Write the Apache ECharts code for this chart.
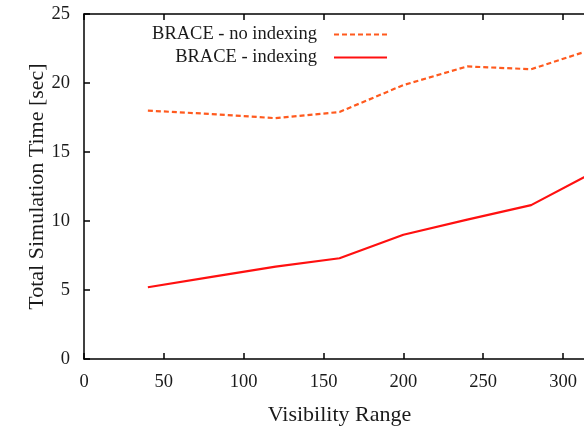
<!DOCTYPE html>
<html>
<head>
<meta charset="utf-8">
<script src="https://cdn.jsdelivr.net/npm/echarts@6/dist/echarts.min.js"></script>
<style>
  html, body { margin: 0; padding: 0; background: #fff; }
  #main { width: 584px; height: 431px; }
</style>
</head>
<body>
<div id="main"></div>
<script>
// visibility range values (x) and simulation times (y)
var ranges = [40, 80, 120, 160, 200, 240, 280, 320];
var noIndexing = [18.0, 17.75, 17.45, 17.9, 19.85, 21.2, 21.0, 22.5];
var indexing = [5.2, 5.95, 6.7, 7.3, 9.0, 10.1, 11.15, 13.6];
var seriesNames = ['BRACE - no indexing', 'BRACE - indexing'];

var font = '"Liberation Serif", "DejaVu Serif", serif';
var txt = '#1a1a1a';

function pairs(ys) {
    return ranges.map(function (x, i) { return [x, ys[i]]; });
}

function legendFor(name, top) {
    return {
        data: [name],
        right: 196, top: top, padding: 0,
        align: 'right',
        itemWidth: 53, itemHeight: 10, itemGap: 0,
        itemStyle: { opacity: 0 },
        textStyle: { fontFamily: font, fontSize: 18.5, color: txt, padding: [0, 12, 0, 0] }
    };
}

var chart = echarts.init(document.getElementById('main'));

var option = {
    animation: false,
    backgroundColor: '#fff',
    grid: { left: 84, top: 14, width: 511, height: 345, outerBoundsMode: 'none', containLabel: false },
    legend: [legendFor(seriesNames[0], 25), legendFor(seriesNames[1], 48)],
    xAxis: [
        {
            type: 'value', min: 0, max: 320, interval: 50,
            name: 'Visibility Range', nameLocation: 'middle', nameGap: 45,
            nameMoveOverlap: false,
            nameTextStyle: { fontFamily: font, fontSize: 22, color: txt },
            axisLine: { lineStyle: { color: '#000', width: 1.5 } },
            axisTick: { inside: true, length: 6, lineStyle: { color: '#000', width: 1.5 } },
            axisLabel: { fontFamily: font, fontSize: 18.5, color: txt, margin: 14,
                formatter: function (v) { return v % 50 === 0 ? v : ''; } },
            splitLine: { show: false }
        },
        {
            type: 'value', position: 'top', min: 0, max: 320, interval: 50,
            axisLine: { lineStyle: { color: '#000', width: 1.5 } },
            axisTick: { inside: true, length: 6, lineStyle: { color: '#000', width: 1.5 } },
            axisLabel: { show: false },
            splitLine: { show: false }
        }
    ],
    yAxis: {
        type: 'value', min: 0, max: 25, interval: 5,
        name: 'Total Simulation Time [sec]', nameLocation: 'middle', nameGap: 36,
        nameMoveOverlap: false,
        nameTextStyle: { fontFamily: font, fontSize: 22, color: txt },
        axisLine: { show: true, lineStyle: { color: '#000', width: 1.5 } },
        axisTick: { show: true, inside: true, length: 6, lineStyle: { color: '#000', width: 1.5 } },
        axisLabel: { fontFamily: font, fontSize: 18.5, color: txt, margin: 14 },
        splitLine: { show: false }
    },
    series: [
        {
            name: seriesNames[0], type: 'line', data: pairs(noIndexing),
            symbol: 'none', color: '#ff5a1e',
            lineStyle: { width: 2.2, type: [5, 3], color: '#ff5a1e' }
        },
        {
            name: seriesNames[1], type: 'line', data: pairs(indexing),
            symbol: 'none', color: '#ff1010',
            lineStyle: { width: 2.2, color: '#ff1010' }
        }
    ]
};

chart.setOption(option);
</script>
</body>
</html>
